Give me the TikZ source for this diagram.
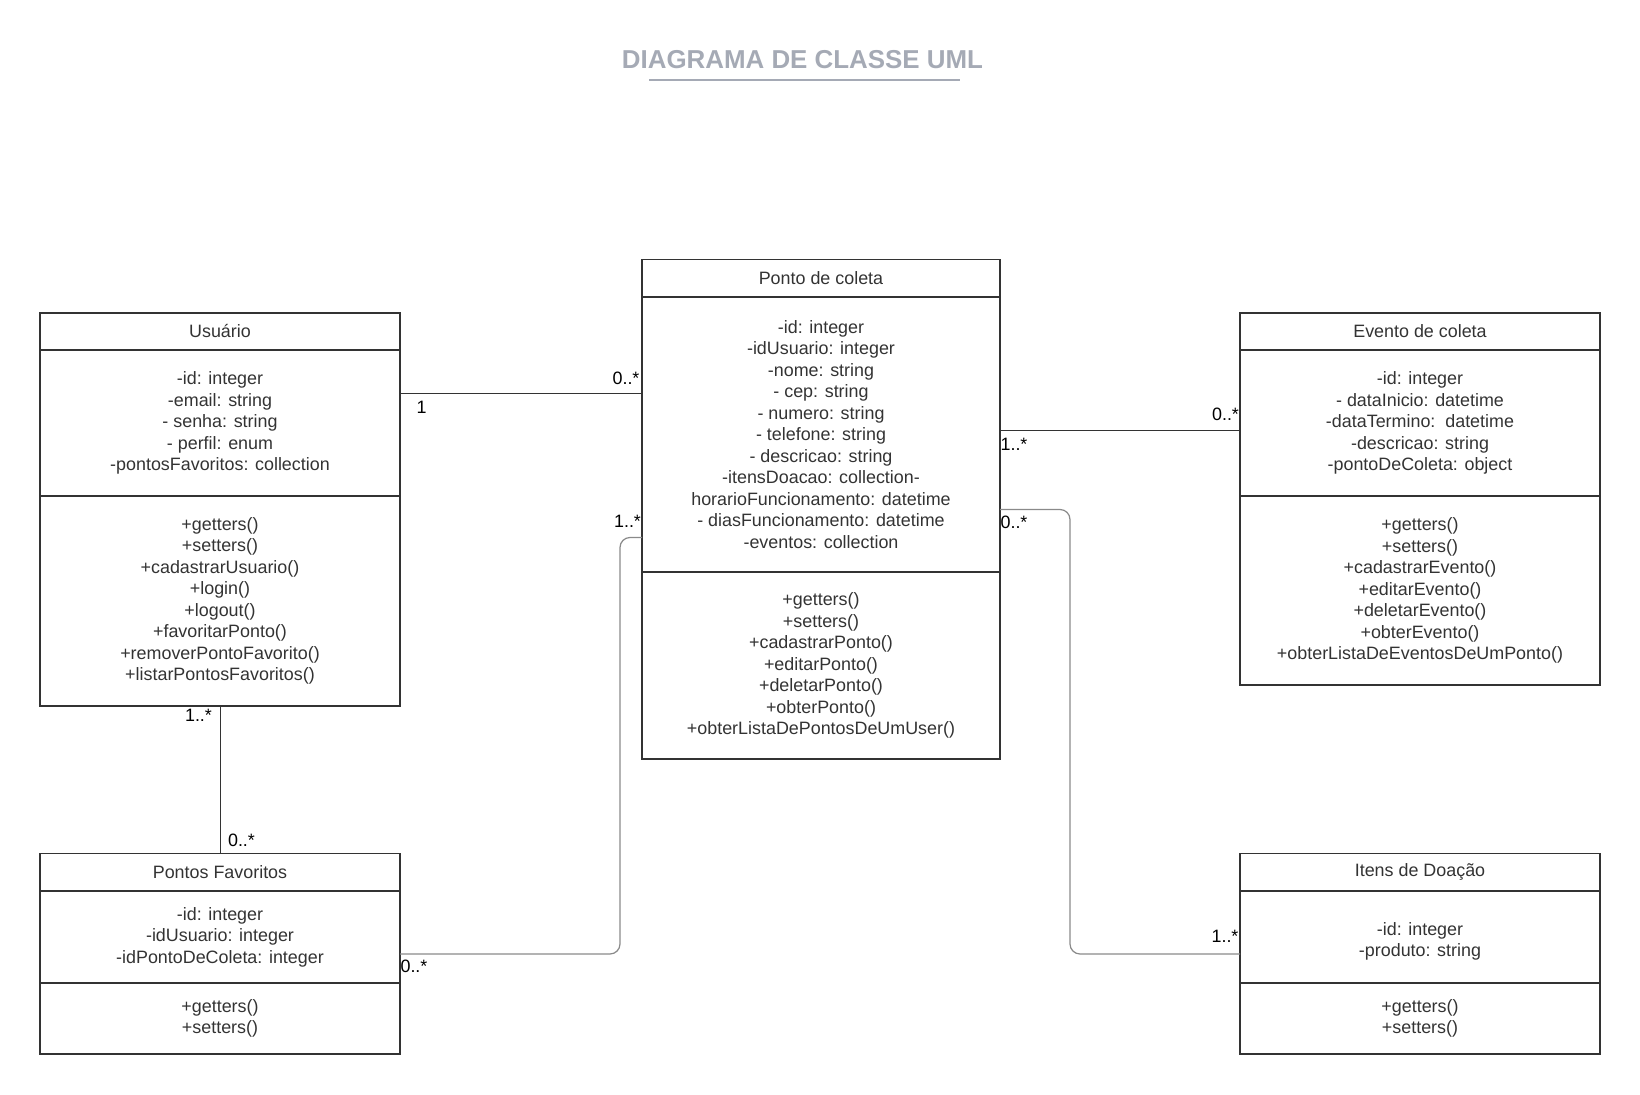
\documentclass[tikz,border=0pt]{standalone}
\usepackage{fontspec}
\setmainfont{Liberation Sans}
\usepackage{xcolor}
\usepackage{tikz}
\usetikzlibrary{positioning}
\definecolor{scheme}{HTML}{333333}
\definecolor{titlecolor}{HTML}{A5AAB5}
\definecolor{linkgray}{HTML}{8A8A8A}

\begin{document}
\begin{tikzpicture}[x=0.5pt,y=-0.5pt,
	box/.style={draw=scheme,line width=0.8pt,inner sep=0pt,outer sep=0pt,align=center,text=scheme,font=\fontsize{8.95}{10.75}\selectfont},
	link/.style={color=scheme,line width=0.5pt},
	curve/.style={color=linkgray,line width=0.6pt,rounded corners=5pt},
	mult/.style={inner sep=0pt,color=black,font=\fontsize{8.95}{10.75}\selectfont}]
				\useasboundingbox (0,0) rectangle (1640,1095);
				\coordinate (c1) at (220,313);%Usuario
				\coordinate (c2) at (821,259.5);%Ponto de coleta
				\coordinate (c3) at (1420,313);%Evento de coleta
				\coordinate (c4) at (220,853.5);%Pontos Favoritos
				\coordinate (c5) at (1420,853.5);%Itens de Doacao
				\coordinate (r1) at (0,394);
				\coordinate (r2) at (0,431);
				\coordinate (r3) at (0,509.5);
				\coordinate (r4) at (0,537.5);
				\coordinate (r5) at (0,954);
				\coordinate (k1) at (620,0);
				\coordinate (k2) at (1070,0);
				\coordinate (t1) at (649,80);
				\coordinate (t2) at (960,80);
				
				\node[text=titlecolor,font=\bfseries\fontsize{12.95}{15}\selectfont] (title) at (802.5,60) {DIAGRAMA DE CLASSE UML};
				\draw[titlecolor,line width=1pt] (t1) -- (t2);
				
				\node[box,anchor=north,minimum width=180pt,minimum height=18.5pt] (h1) at (c1) {Usuário};
				\node[box,below=0pt of h1,minimum width=180pt,minimum height=73pt] (a1) {-id: integer\\-email: string\\- senha: string\\- perfil: enum\\-pontosFavoritos: collection};
				\node[box,below=0pt of a1,minimum width=180pt,minimum height=105pt] (m1) {+getters()\\+setters()\\+cadastrarUsuario()\\+login()\\+logout()\\+favoritarPonto()\\+removerPontoFavorito()\\+listarPontosFavoritos()};
				
				\node[box,anchor=north,minimum width=179pt,minimum height=18.75pt] (h2) at (c2) {Ponto de coleta};
				\node[box,below=0pt of h2,minimum width=179pt,minimum height=137.5pt] (a2) {-id: integer\\-idUsuario: integer\\-nome: string\\- cep: string\\- numero: string\\- telefone: string\\- descricao: string\\-itensDoacao: collection-\\horarioFuncionamento: datetime\\- diasFuncionamento: datetime\\-eventos: collection};
				\node[box,below=0pt of a2,minimum width=179pt,minimum height=93.5pt] (m2) {+getters()\\+setters()\\+cadastrarPonto()\\+editarPonto()\\+deletarPonto()\\+obterPonto()\\+obterListaDePontosDeUmUser()};
				
				\node[box,anchor=north,minimum width=180pt,minimum height=18.5pt] (h3) at (c3) {Evento de coleta};
				\node[box,below=0pt of h3,minimum width=180pt,minimum height=73pt] (a3) {-id: integer\\- dataInicio: datetime\\-dataTermino:\ \ datetime\\-descricao: string\\-pontoDeColeta: object};
				\node[box,below=0pt of a3,minimum width=180pt,minimum height=94.5pt] (m3) {+getters()\\+setters()\\+cadastrarEvento()\\+editarEvento()\\+deletarEvento()\\+obterEvento()\\+obterListaDeEventosDeUmPonto()};
				
				\node[box,anchor=north,minimum width=180pt,minimum height=18.75pt] (h4) at (c4) {Pontos Favoritos};
				\node[box,below=0pt of h4,minimum width=180pt,minimum height=46pt] (a4) {-id: integer\\-idUsuario: integer\\-idPontoDeColeta: integer};
				\node[box,below=0pt of a4,minimum width=180pt,minimum height=35.5pt] (m4) {+getters()\\+setters()};
				
				\node[box,anchor=north,minimum width=180pt,minimum height=18.75pt] (h5) at (c5) {Itens de Doação};
				\node[box,below=0pt of h5,minimum width=180pt,minimum height=46pt] (a5) {\mbox{}\\-id: integer\\-produto: string};
				\node[box,below=0pt of a5,minimum width=180pt,minimum height=35.5pt] (m5) {+getters()\\+setters()};
				
				\draw[link] (a1.east |- r1) -- (a2.west |- r1);
				\draw[link] (a2.east |- r2) -- (a3.west |- r2);
				\draw[curve] (a2.east |- r3) -| (k2 |- r5) -- (a5.west |- r5);
				\draw[curve] (a2.west |- r4) -| (k1 |- r5) -- (a4.east |- r5);
				\draw[link] (m1.south) -- (h4.north);
				
				\node[mult] (l1) at (421.5,407.5) {1};
				\node[mult] (l2) at (626,378) {0..*};
				\node[mult] (l3) at (1014,444) {1..*};
				\node[mult] (l4) at (1225.5,414) {0..*};
				\node[mult] (l5) at (1014,522.5) {0..*};
				\node[mult] (l6) at (1225,936.5) {1..*};
				\node[mult] (l7) at (627.5,521) {1..*};
				\node[mult] (l8) at (414,966.5) {0..*};
				\node[mult] (l9) at (198.5,715) {1..*};
				\node[mult] (l10) at (241.5,840) {0..*};
			\end{tikzpicture}
\end{document}
